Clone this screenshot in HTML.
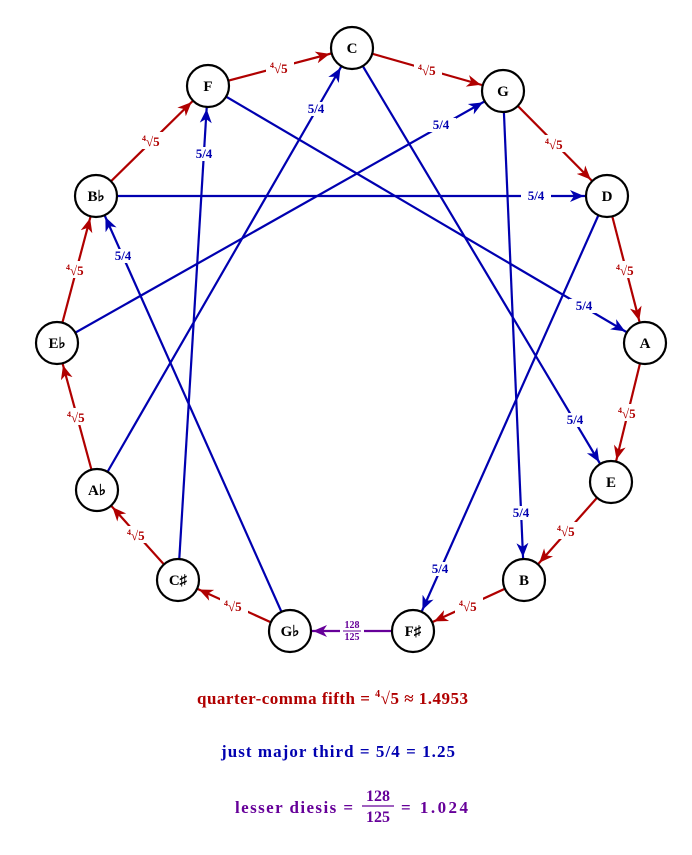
<!DOCTYPE html>
<html><head><meta charset="utf-8"><style>
html,body{margin:0;padding:0;background:#fff;}
svg{display:block;font-family:"Liberation Serif",serif;font-weight:bold;}
</style></head><body>
<svg width="692" height="855" viewBox="0 0 692 855" xmlns="http://www.w3.org/2000/svg">
<defs>
<marker id="ar" markerUnits="userSpaceOnUse" markerWidth="44" markerHeight="20" refX="23" refY="0" viewBox="-14 -7 44 14" orient="auto"><path d="M0,0 L-14,-6 L-10,0 L-14,6 Z" fill="#b00000"/></marker>
<marker id="ab" markerUnits="userSpaceOnUse" markerWidth="44" markerHeight="20" refX="23" refY="0" viewBox="-14 -7 44 14" orient="auto"><path d="M0,0 L-14,-6 L-10,0 L-14,6 Z" fill="#0000b0"/></marker>
<marker id="ap" markerUnits="userSpaceOnUse" markerWidth="44" markerHeight="20" refX="23" refY="0" viewBox="-14 -7 44 14" orient="auto"><path d="M0,0 L-14,-6 L-10,0 L-14,6 Z" fill="#660099"/></marker>
</defs>
<g stroke="#0000b0" stroke-width="2.2" marker-end="url(#ab)">
<line x1="96" y1="196" x2="607" y2="196"/>
<line x1="57" y1="343" x2="503" y2="91"/>
<line x1="97" y1="490" x2="352" y2="48"/>
<line x1="178" y1="580" x2="208" y2="86"/>
<line x1="290" y1="631" x2="96" y2="196"/>
<line x1="208" y1="86" x2="645" y2="343"/>
<line x1="352" y1="48" x2="611" y2="482"/>
<line x1="503" y1="91" x2="524" y2="580"/>
<line x1="607" y1="196" x2="413" y2="631"/>
</g>
<g stroke="#b00000" stroke-width="2.2" marker-end="url(#ar)">
<line x1="208" y1="86" x2="352" y2="48"/>
<line x1="352" y1="48" x2="503" y2="91"/>
<line x1="503" y1="91" x2="607" y2="196"/>
<line x1="607" y1="196" x2="645" y2="343"/>
<line x1="645" y1="343" x2="611" y2="482"/>
<line x1="611" y1="482" x2="524" y2="580"/>
<line x1="524" y1="580" x2="413" y2="631"/>
<line x1="290" y1="631" x2="178" y2="580"/>
<line x1="178" y1="580" x2="97" y2="490"/>
<line x1="97" y1="490" x2="57" y2="343"/>
<line x1="57" y1="343" x2="96" y2="196"/>
<line x1="96" y1="196" x2="208" y2="86"/>
</g>
<line x1="413" y1="631" x2="290" y2="631" stroke="#660099" stroke-width="2.2" marker-end="url(#ap)"/>
<g fill="#fff" stroke="#000" stroke-width="2.2">
<circle cx="352" cy="48" r="21"/><circle cx="503" cy="91" r="21"/><circle cx="607" cy="196" r="21"/>
<circle cx="645" cy="343" r="21"/><circle cx="611" cy="482" r="21"/><circle cx="524" cy="580" r="21"/>
<circle cx="413" cy="631" r="21"/><circle cx="290" cy="631" r="21"/><circle cx="178" cy="580" r="21"/>
<circle cx="97" cy="490" r="21"/><circle cx="57" cy="343" r="21"/><circle cx="96" cy="196" r="21"/>
<circle cx="208" cy="86" r="21"/>
</g>
<g font-size="15" text-anchor="middle" fill="#000">
<text x="352" y="53">C</text><text x="503" y="96">G</text><text x="607" y="201">D</text>
<text x="645" y="348">A</text><text x="611" y="487">E</text><text x="524" y="585">B</text>
<text x="413" y="636">F♯</text><text x="290" y="636">G♭</text><text x="178" y="585">C♯</text>
<text x="97" y="495">A♭</text><text x="57" y="348">E♭</text><text x="96" y="201">B♭</text>
<text x="208" y="91">F</text>
</g>
<g fill="#fff">
<rect x="521" y="189" width="30" height="14"/><rect x="426" y="118" width="30" height="14"/>
<rect x="301" y="102" width="30" height="14"/><rect x="189" y="147" width="30" height="14"/>
<rect x="108" y="249" width="30" height="14"/><rect x="569" y="299" width="30" height="14"/>
<rect x="560" y="413" width="30" height="14"/><rect x="506" y="506" width="30" height="14"/>
<rect x="425" y="562" width="30" height="14"/>
</g>
<g font-size="13" text-anchor="middle" fill="#0000b0">
<text x="536" y="200">5/4</text><text x="441" y="129">5/4</text><text x="316" y="113">5/4</text>
<text x="204" y="158">5/4</text><text x="123" y="260">5/4</text><text x="584" y="310">5/4</text>
<text x="575" y="424">5/4</text><text x="521" y="517">5/4</text><text x="440" y="573">5/4</text>
</g>
<g fill="#fff">
<rect x="266" y="59" width="28" height="17"/><rect x="414" y="61" width="28" height="17"/>
<rect x="541" y="135" width="28" height="17"/><rect x="612" y="261" width="28" height="17"/>
<rect x="614" y="404" width="28" height="17"/><rect x="553" y="522" width="28" height="17"/>
<rect x="455" y="597" width="28" height="17"/><rect x="220" y="597" width="28" height="17"/>
<rect x="123" y="526" width="28" height="17"/><rect x="63" y="408" width="28" height="17"/>
<rect x="62" y="261" width="28" height="17"/><rect x="138" y="132" width="28" height="17"/>
<rect x="340" y="619" width="24" height="24"/>
</g>
<g font-size="13" fill="#b00000">
<text x="270" y="73"><tspan font-size="8" dy="-5">4</tspan><tspan dy="5">√5</tspan></text>
<text x="418" y="75"><tspan font-size="8" dy="-5">4</tspan><tspan dy="5">√5</tspan></text>
<text x="545" y="149"><tspan font-size="8" dy="-5">4</tspan><tspan dy="5">√5</tspan></text>
<text x="616" y="275"><tspan font-size="8" dy="-5">4</tspan><tspan dy="5">√5</tspan></text>
<text x="618" y="418"><tspan font-size="8" dy="-5">4</tspan><tspan dy="5">√5</tspan></text>
<text x="557" y="536"><tspan font-size="8" dy="-5">4</tspan><tspan dy="5">√5</tspan></text>
<text x="459" y="611"><tspan font-size="8" dy="-5">4</tspan><tspan dy="5">√5</tspan></text>
<text x="224" y="611"><tspan font-size="8" dy="-5">4</tspan><tspan dy="5">√5</tspan></text>
<text x="127" y="540"><tspan font-size="8" dy="-5">4</tspan><tspan dy="5">√5</tspan></text>
<text x="67" y="422"><tspan font-size="8" dy="-5">4</tspan><tspan dy="5">√5</tspan></text>
<text x="66" y="275"><tspan font-size="8" dy="-5">4</tspan><tspan dy="5">√5</tspan></text>
<text x="142" y="146"><tspan font-size="8" dy="-5">4</tspan><tspan dy="5">√5</tspan></text>
</g>
<g fill="#660099" font-size="10" text-anchor="middle">
<text x="352" y="628">128</text>
<line x1="343" y1="631" x2="361" y2="631" stroke="#660099" stroke-width="1"/>
<text x="352" y="640">125</text>
</g>
<g font-size="17">
<text x="197" y="704" fill="#b00000" textLength="271" lengthAdjust="spacing">quarter-comma fifth = <tspan font-size="10" dy="-7">4</tspan><tspan dy="7">√5 ≈ 1.4953</tspan></text>
<text x="221" y="757" fill="#0000b0" textLength="234" lengthAdjust="spacing">just major third = 5/4 = 1.25</text>
<text x="235" y="813" fill="#660099" textLength="118" lengthAdjust="spacing">lesser diesis =</text>
<text x="378" y="801" fill="#660099" font-size="16" text-anchor="middle">128</text>
<line x1="362" y1="806" x2="394" y2="806" stroke="#660099" stroke-width="1.2"/>
<text x="378" y="822" fill="#660099" font-size="16" text-anchor="middle">125</text>
<text x="401" y="813" fill="#660099" textLength="67" lengthAdjust="spacing">= 1.024</text>
</g>
</svg>
</body></html>
